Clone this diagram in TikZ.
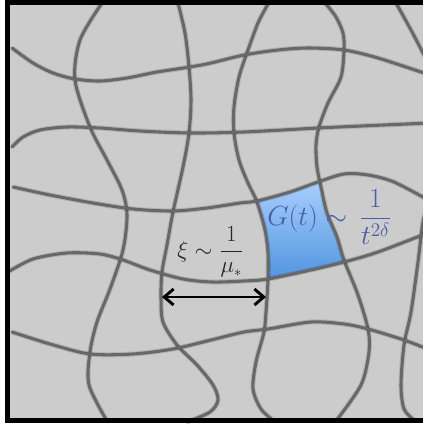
\documentclass[tikz,border=0pt]{standalone}
\usepackage{tikz}
\usetikzlibrary{arrows.meta}
\usepackage{xcolor}
\usepackage{amsmath}

\definecolor{panelgray}{RGB}{204,204,204}
\definecolor{fibregray}{RGB}{104,104,104}
\definecolor{labelblue}{RGB}{72,94,168}
\definecolor{celltop}{RGB}{174,210,255}
\definecolor{cellbot}{RGB}{76,146,222}

% wavy fibres, pixel units, y pointing down
\newcommand{\fibreA}{plot[smooth] coordinates {(102,3) (80,40) (75,80) (90,127) (107,160) (122,190) (127,215) (123,250) (110,289) (97,322) (90,352) (89,385) (107,421)}}
\newcommand{\fibreB}{plot[smooth] coordinates {(178,3) (185,33) (189,67) (191,100) (189,133) (183,167) (173,212) (167,245) (162,272) (161,297) (163,322) (177,345) (197,365) (213,385) (218,400) (210,412) (187,422)}}
\newcommand{\fibreC}{plot[smooth] coordinates {(268,4) (258,23) (248,50) (239,77) (234,107) (234,133) (239,160) (248,183) (257,202) (265,230) (268,253) (268,280) (266,312) (264,332) (256,362) (253,389) (261,409) (274,421)}}
\newcommand{\fibreD}{plot[smooth] coordinates {(326,4) (336,17) (343,33) (344,50) (341,77) (328,103) (319,127) (316,145) (317,167) (321,187) (327,213) (337,237) (344,260) (358,295) (368,329) (369,352) (361,385) (336,421)}}
\newcommand{\fibreE}{plot[smooth] coordinates {(396,3) (411,30) (423,53) (432,70)}}
\newcommand{\fibreF}{plot[smooth] coordinates {(430,195) (423,222) (418,262) (411,312) (404,345) (401,385) (404,409) (414,420)}}
\newcommand{\rowA}{plot[smooth] coordinates {(12,48) (33,63) (53,73) (75,79) (100,81) (127,78) (157,72) (190,67) (211,63) (244,55) (278,50) (308,48) (344,50) (378,58) (430,75)}}
\newcommand{\rowB}{plot[smooth] coordinates {(12,147) (23,137) (40,130) (67,127) (100,128) (140,131) (190,133) (244,132) (318,128) (361,126) (430,123)}}
\newcommand{\rowC}{plot[smooth] coordinates {(13,187) (50,195) (93,203) (133,209) (173,211) (207,208) (240,203) (257,201) (290,192) (318,182) (344,174) (368,175) (394,182) (430,201)}}
\newcommand{\rowD}{plot[smooth] coordinates {(8,272) (33,259) (67,253) (100,254) (123,260) (150,270) (183,279) (212,282) (244,281) (268,279) (311,270) (344,262) (378,252) (430,232)}}
\newcommand{\rowE}{plot[smooth] coordinates {(12,332) (50,344) (90,354) (133,354) (173,349) (211,340) (244,332) (268,329) (311,322) (344,324) (368,329) (404,340) (430,350)}}

\begin{document}
\begin{tikzpicture}[
    x=0.75pt, y=-0.75pt,
    fibre/.style={draw=fibregray, line width=2.3pt, line cap=round,
      preaction={draw=black, opacity=0.12, line width=3.8pt}},
    frame/.style={draw=black, line width=3.75pt},
    dimarrow/.style={{Straight Barb[length=7pt,width=12pt]}-{Straight Barb[length=7pt,width=12pt]},
      line width=2.2pt, draw=black},
    gtlabel/.style={text=labelblue, inner sep=0pt, font=\fontsize{20.5}{24}\selectfont},
    xilabel/.style={text=black!85, inner sep=0pt, font=\fontsize{16}{19}\selectfont}
  ]
  \useasboundingbox (0,0) rectangle (423,425);
  \clip (0,0) rectangle (423,425);
  \fill[panelgray] (7.5,2) rectangle (445,420);

  % the blue cell
  \begin{scope}
    \clip \fibreC -- (440,430) -- (440,-10) -- cycle;
    \clip \fibreD -- (-10,430) -- (-10,-10) -- cycle;
    \clip \rowC -- (430,430) -- (13,430) -- cycle;
    \clip \rowD -- (430,-10) -- (8,-10) -- cycle;
    \shade[top color=celltop, bottom color=cellbot] (240,175) rectangle (360,285);
  \end{scope}

  \draw[fibre] \fibreA;
  \draw[fibre] \fibreB;
  \draw[fibre] \fibreC;
  \draw[fibre] \fibreD;
  \draw[fibre] \fibreE;
  \draw[fibre] \fibreF;
  \draw[fibre] \rowA;
  \draw[fibre] \rowB;
  \draw[fibre] \rowC;
  \draw[fibre] \rowD;
  \draw[fibre] \rowE;

  \coordinate (xiL) at (162,297);
  \coordinate (xiR) at (266,297);
  \draw[dimarrow] (xiL) -- (xiR);

  \node[xilabel, anchor=west] (xi) at (177,252) {$\xi\sim\dfrac{1}{\mu_*}$};
  \node[gtlabel, anchor=west] (gt) at (267,217) {$G(t)\sim\,\dfrac{1}{t^{2\delta}}$};

  \draw[frame] (7.5,2) rectangle (445,420);
\end{tikzpicture}
\end{document}
